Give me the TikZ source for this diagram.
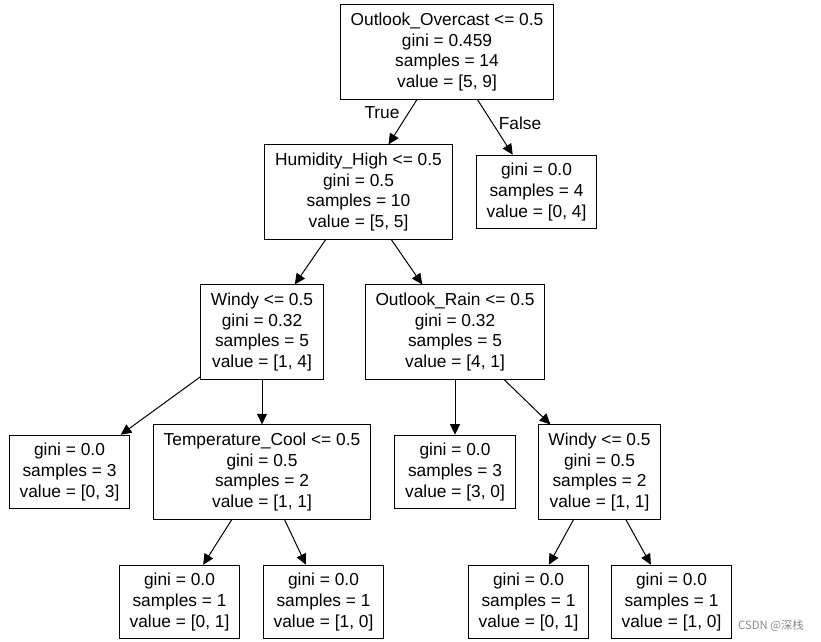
\documentclass[tikz,border=0pt]{standalone}
\usepackage{fontspec}
\setmainfont{Liberation Sans}
\newfontfamily\cjk{Noto Sans CJK SC}
\usetikzlibrary{arrows.meta}
\begin{document}
\begin{tikzpicture}[x=0.75pt, y=-0.75pt,
		treenode/.style={draw, line width=0.75pt, align=center, inner xsep=7.7pt, inner ysep=6pt, font=\fontsize{13}{15.5}\selectfont},
		branch/.style={line width=0.75pt, -{Triangle[length=8pt, width=7.5pt]}},
		tag/.style={inner sep=0pt, font=\fontsize{13}{15.5}\selectfont}]

		\useasboundingbox (0,0) rectangle (821,642);

		\node[treenode] (root) at (447,52) {Outlook\_Overcast <= 0.5\\gini = 0.459\\samples = 14\\value = [5, 9]};
		\node[treenode] (hum) at (358.5,192) {Humidity\_High <= 0.5\\gini = 0.5\\samples = 10\\value = [5, 5]};
		\node[treenode] (leafA) at (536.5,192) {gini = 0.0\\samples = 4\\value = [0, 4]};
		\node[treenode] (windyA) at (262,332) {Windy <= 0.5\\gini = 0.32\\samples = 5\\value = [1, 4]};
		\node[treenode] (rain) at (455,332) {Outlook\_Rain <= 0.5\\gini = 0.32\\samples = 5\\value = [4, 1]};
		\node[treenode] (leafB) at (69.5,472) {gini = 0.0\\samples = 3\\value = [0, 3]};
		\node[treenode] (temp) at (262,472) {Temperature\_Cool <= 0.5\\gini = 0.5\\samples = 2\\value = [1, 1]};
		\node[treenode] (leafC) at (455,472) {gini = 0.0\\samples = 3\\value = [3, 0]};
		\node[treenode] (windyB) at (599.5,472) {Windy <= 0.5\\gini = 0.5\\samples = 2\\value = [1, 1]};
		\node[treenode] (leafD) at (179.5,602) {gini = 0.0\\samples = 1\\value = [0, 1]};
		\node[treenode] (leafE) at (323.5,602) {gini = 0.0\\samples = 1\\value = [1, 0]};
		\node[treenode] (leafF) at (528.5,602) {gini = 0.0\\samples = 1\\value = [0, 1]};
		\node[treenode] (leafG) at (671.5,602) {gini = 0.0\\samples = 1\\value = [1, 0]};

		\foreach \a/\b in {root/hum, root/leafA, hum/windyA, hum/rain, windyA/leafB, windyA/temp, rain/leafC, rain/windyB, temp/leafD, temp/leafE, windyB/leafF, windyB/leafG}
		\draw[branch] (\a) -- (\b);

		\node[tag] (true) at (382,113) {True};
		\node[tag] (false) at (520,123) {False};

		\node[inner sep=0pt, text=black!45, font=\cjk\fontsize{8.5}{10}\selectfont] (mark) at (771,626) {CSDN @深栈};
	\end{tikzpicture}
\end{document}
